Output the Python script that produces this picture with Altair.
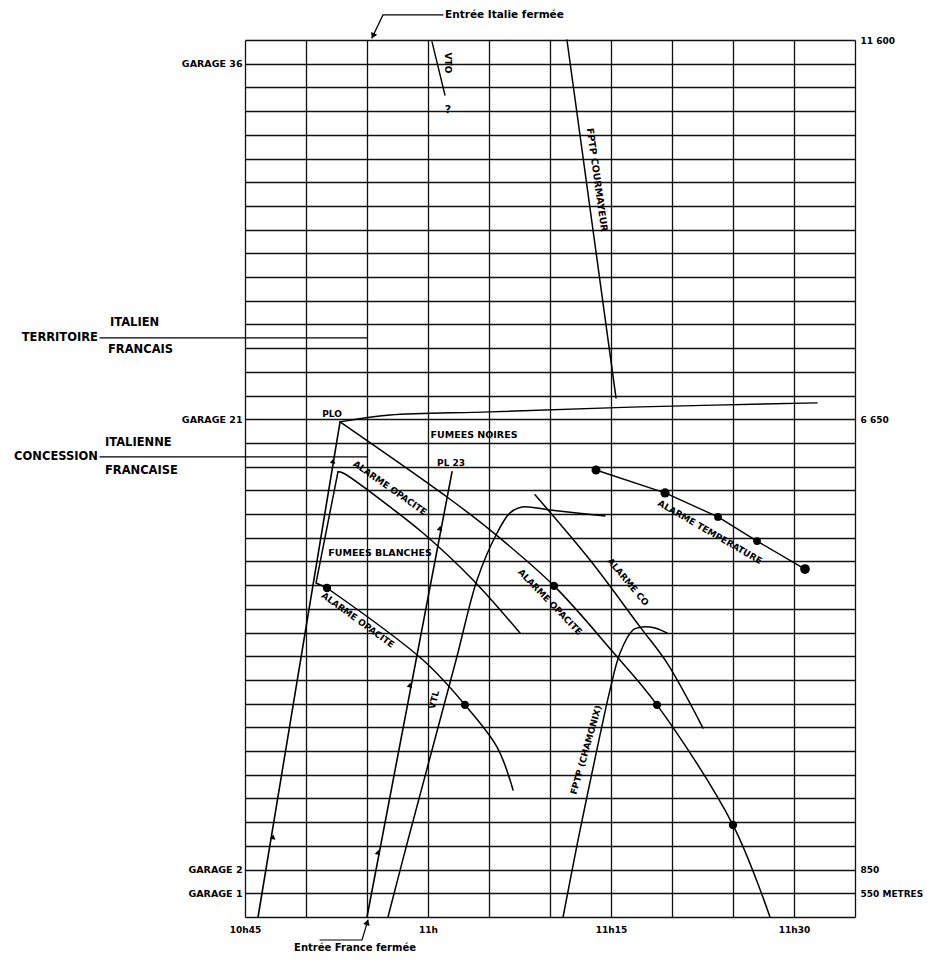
import altair as alt
import pandas as pd

# time = minutes after 10h45 ; pos = lay-by line index (0 = French portal, 1 = garage 1 ... 37 = Italian portal)
T_DOMAIN = [0, 50]
P_DOMAIN = [0, 37]

# ---------- trajectories / fronts ----------
plo_t = [1.07, 7.79]
plo_p = [0.0, 20.89]
front_t = [7.79, 11.89, 20.08, 32.38, 46.89]
front_p = [20.89, 21.18, 21.31, 21.52, 21.69]
opac_mid_t = [7.79, 16.56, 20.08, 25.33, 30.16, 33.77, 40.0, 43.03]
opac_mid_p = [20.89, 17.72, 16.33, 13.97, 11.18, 8.95, 3.88, 0.0]
blanches_t = [7.62, 8.03, 11.89, 14.59, 18.69, 22.54]
blanches_p = [18.78, 18.73, 17.30, 16.20, 14.22, 11.98]
stub_t = [7.62, 5.82, 6.72]
stub_p = [18.78, 14.09, 13.88]
opac_low_t = [6.72, 14.59, 18.03, 20.66, 21.97]
opac_low_p = [13.88, 10.84, 8.95, 7.17, 5.36]
pl23_t = [10.0, 16.97]
pl23_p = [0.0, 18.78]
vtl_t = [11.72, 13.36, 17.30, 19.02, 20.66, 21.72, 22.70, 25.00, 29.51]
vtl_p = [0.0, 3.25, 10.84, 14.22, 16.20, 17.05, 17.30, 17.17, 16.92]
cham_t = [26.07, 27.30, 29.10, 29.92, 30.74, 31.80, 32.62, 33.61, 34.59]
cham_p = [0.0, 3.25, 7.68, 9.58, 11.14, 12.11, 12.24, 12.19, 11.98]
cour_t = [26.39, 30.41]
cour_p = [37.0, 21.90]
vto_t = [15.33, 16.39]
vto_p = [36.92, 34.68]
co_t = [23.77, 28.28, 32.38, 34.59, 37.54]
co_p = [17.81, 15.06, 12.24, 10.72, 7.97]
temp_t = [28.77, 34.43, 38.77, 41.97, 45.90]
temp_p = [18.86, 17.89, 16.88, 15.86, 14.68]
terr_t = [-11.89, 10.0]
terr_p = [24.43, 24.43]
conc_t = [-11.89, 10.0]
conc_p = [19.41, 19.41]
ita_arrow_t = [16.23, 11.31, 10.41]
ita_arrow_p = [38.06, 38.06, 37.09]
fra_arrow_t = [6.15, 9.59, 10.08]
fra_arrow_p = [-0.97, -0.97, -0.13]

# ---------- alarm dots ----------
dot_t = [6.72, 18.03, 25.33, 33.77, 40.0, 28.77, 34.43, 38.77, 41.97, 45.90]
dot_p = [13.88, 8.95, 13.97, 8.95, 3.88, 18.86, 17.89, 16.88, 15.86, 14.68]
dot_s = [70, 70, 70, 70, 70, 80, 85, 60, 60, 95]

# ---------- direction arrowheads ----------
tri_t = [2.30, 7.21, 10.90, 13.52, 15.98, 10.49, 10.02]
tri_p = [3.38, 19.24, 2.74, 9.79, 16.41, 37.17, -0.22]
tri_a = [9, 9, 11, 11, 11, 205, 16]
tri_s = [32, 32, 32, 32, 32, 45, 45]

# ---------- text labels ----------
lab_c_text = ["PLO", "FUMEES NOIRES", "PL 23", "FUMEES BLANCHES", "ALARME OPACITE",
              "ALARME OPACITE", "ALARME OPACITE", "ALARME CO", "ALARME TEMPERATURE",
              "FPTP (CHAMONIX)", "FPTP COURMAYEUR", "VTL", "VTO", "?", "Entrée France fermée"]
lab_c_t = [7.13, 18.77, 16.89, 11.07, 11.89, 9.26, 25.0, 31.39, 38.11, 27.95, 28.85, 15.49, 16.64, 16.64, 9.02]
lab_c_p = [21.22, 20.34, 19.16, 15.36, 18.10, 12.53, 13.29, 14.14, 16.24, 7.05, 31.10, 9.16, 36.03, 34.05, -1.31]
lab_c_a = [0, 0, 0, 0, 35, 36, 46, 50, 30, 286, 82, 285, 90, 0, 0]
lab_c_s = [9, 9.5, 9, 9.5, 9, 9, 9, 9, 9, 9, 9.5, 9, 9, 11, 10]

lab_l_text = ["Entrée Italie fermée", "ITALIEN", "FRANCAIS", "ITALIENNE", "FRANCAISE"]
lab_l_t = [16.4, -11.07, -11.23, -11.48, -11.48]
lab_l_p = [38.06, 25.06, 23.92, 20.0, 18.82]
lab_l_s = [10.5, 11.5, 11.5, 11.5, 11.5]

lab_r_text = ["TERRITOIRE", "CONCESSION"]
lab_r_t = [-12.05, -12.05]
lab_r_p = [24.43, 19.41]
lab_r_s = [11.5, 11.5]

# ---------- axis labels ----------
time_vals = [0, 15, 30, 45]
time_labs = ["10h45", "11h", "11h15", "11h30"]
garage_vals = [1, 2, 21, 36]
garage_labs = ["GARAGE 1", "GARAGE 2", "GARAGE 21", "GARAGE 36"]
metre_vals = [1, 2, 21, 37]
metre_labs = ["550 METRES", "850", "6 650", "11 600"]


def expr(vals, labs):
    s = "''"
    for v, l in reversed(list(zip(vals, labs))):
        s = f"datum.value == {v} ? '{l}' : ({s})"
    return s


linear_series = {
    "plo": (plo_t, plo_p, 1.6), "stub": (stub_t, stub_p, 1.5), "pl23": (pl23_t, pl23_p, 1.6),
    "cour": (cour_t, cour_p, 1.5), "vto": (vto_t, vto_p, 1.4), "temp": (temp_t, temp_p, 1.4),
    "terr": (terr_t, terr_p, 1.2), "conc": (conc_t, conc_p, 1.2),
    "ita": (ita_arrow_t, ita_arrow_p, 1.2), "fra": (fra_arrow_t, fra_arrow_p, 1.2),
}
smooth_series = {
    "front": (front_t, front_p, 1.4), "opac_mid": (opac_mid_t, opac_mid_p, 1.5),
    "blanches": (blanches_t, blanches_p, 1.5), "opac_low": (opac_low_t, opac_low_p, 1.5),
    "vtl": (vtl_t, vtl_p, 1.5), "cham": (cham_t, cham_p, 1.5), "co": (co_t, co_p, 1.5),
}


def to_df(series):
    rows = []
    for sid, (ts, ps, w) in series.items():
        for i, (t, p) in enumerate(zip(ts, ps)):
            rows.append({"id": sid, "i": i, "t": t, "p": p, "w": w})
    return pd.DataFrame(rows)


xs = alt.Scale(domain=T_DOMAIN, nice=False, zero=False)
ys = alt.Scale(domain=P_DOMAIN, nice=False, zero=False)

x_axis = alt.Axis(values=list(range(0, 51, 5)), grid=True, gridColor="#111111", gridWidth=1.3,
                  gridOpacity=1, ticks=False, tickSize=0, domain=False,
                  labelExpr=expr(time_vals, time_labs), labelFont="DejaVu Sans",
                  labelFontWeight="bold", labelFontSize=9, labelColor="black", labelPadding=8,
                  labelFlush=False, labelOverlap=False, title=None)
y_left = alt.Axis(values=list(range(0, 38)), grid=True, gridColor="#111111", gridWidth=1.3,
                  gridOpacity=1, ticks=False, tickSize=0, domain=False,
                  labelExpr=expr(garage_vals, garage_labs), labelFont="DejaVu Sans",
                  labelFontWeight="bold", labelFontSize=9.5, labelColor="black", labelPadding=3,
                  labelFlush=False, labelOverlap=False, title=None)
y_right = alt.Axis(orient="right", values=metre_vals, grid=False, ticks=False, tickSize=0,
                   domain=False, labelExpr=expr(metre_vals, metre_labs), labelFont="DejaVu Sans",
                   labelFontWeight="bold", labelFontSize=9, labelColor="black", labelPadding=5,
                   labelFlush=False, labelOverlap=False, title=None)

X = alt.X("t:Q", scale=xs, axis=x_axis)

lin = alt.Chart(to_df(linear_series)).mark_line(color="black", interpolate="linear",
                                                 strokeJoin="round", strokeCap="round").encode(
    x=X, y=alt.Y("p:Q", scale=ys, axis=y_left), detail="id:N", order="i:Q",
    strokeWidth=alt.StrokeWidth("w:Q", scale=None))

smo = alt.Chart(to_df(smooth_series)).mark_line(color="black", interpolate="catmull-rom",
                                                 strokeJoin="round", strokeCap="round").encode(
    x=X, y=alt.Y("p:Q", scale=ys, axis=y_right), detail="id:N", order="i:Q",
    strokeWidth=alt.StrokeWidth("w:Q", scale=None))

dots = alt.Chart(pd.DataFrame({"t": dot_t, "p": dot_p, "s": dot_s})).mark_circle(
    color="black", opacity=1).encode(
    x=X, y=alt.Y("p:Q", scale=ys, axis=None), size=alt.Size("s:Q", scale=None))

tris = alt.Chart(pd.DataFrame({"t": tri_t, "p": tri_p, "a": tri_a, "s": tri_s})).mark_point(
    shape="triangle-up", filled=True, color="black", opacity=1).encode(
    x=X, y=alt.Y("p:Q", scale=ys, axis=None), angle=alt.Angle("a:Q", scale=None),
    size=alt.Size("s:Q", scale=None))

txt_c = alt.Chart(pd.DataFrame({"txt": lab_c_text, "t": lab_c_t, "p": lab_c_p, "a": lab_c_a,
                                "s": lab_c_s})).mark_text(
    font="DejaVu Sans", fontWeight="bold", color="black", align="center", baseline="middle").encode(
    x=X, y=alt.Y("p:Q", scale=ys, axis=None), text="txt:N",
    angle=alt.Angle("a:Q", scale=None), size=alt.Size("s:Q", scale=None))

txt_l = alt.Chart(pd.DataFrame({"txt": lab_l_text, "t": lab_l_t, "p": lab_l_p,
                                "s": lab_l_s})).mark_text(
    font="DejaVu Sans", fontWeight="bold", color="black", align="left", baseline="middle").encode(
    x=X, y=alt.Y("p:Q", scale=ys, axis=None), text="txt:N", size=alt.Size("s:Q", scale=None))

txt_r = alt.Chart(pd.DataFrame({"txt": lab_r_text, "t": lab_r_t, "p": lab_r_p,
                                "s": lab_r_s})).mark_text(
    font="DejaVu Sans", fontWeight="bold", color="black", align="right", baseline="middle").encode(
    x=X, y=alt.Y("p:Q", scale=ys, axis=None), text="txt:N", size=alt.Size("s:Q", scale=None))

chart = alt.layer(lin, smo, dots, tris, txt_c, txt_l, txt_r).resolve_axis(
    y="independent").properties(
    width=610, height=877,
    padding={"left": 237, "top": 32, "right": 71, "bottom": 37},
    autosize=alt.AutoSizeParams(type="none"),
    background="white",
).configure_view(stroke=None)

chart.save("out.html", embed_options={"renderer": "svg", "actions": False})
